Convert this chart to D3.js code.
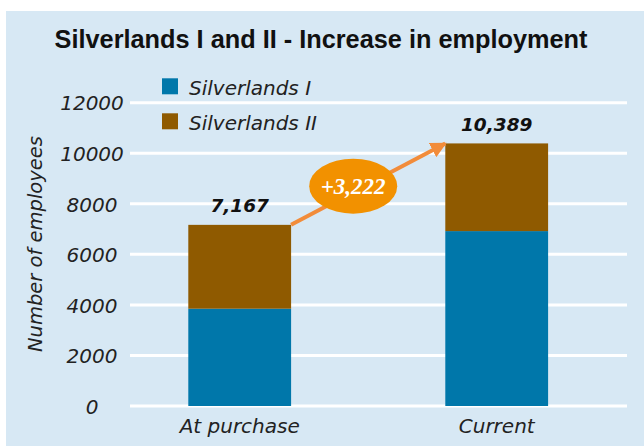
<!DOCTYPE html>
<html><head><meta charset="utf-8">
<script src="https://cdn.jsdelivr.net/npm/d3@7"></script>
<style>html,body{margin:0;padding:0;background:#fff;}svg{display:block;}</style>
</head><body>
<svg id="c" width="644" height="446"></svg>
<script>
const categories = ["At purchase", "Current"];
const seriesNames = ["Silverlands I", "Silverlands II"];
const silverlandsI = [3850, 6920];
const silverlandsII = [3317, 3469];
const totalLabels = ["7,167", "10,389"];
const increaseLabel = "+3,222";
const yTicks = [0, 2000, 4000, 6000, 8000, 10000, 12000];
const colors = ["#0077aa", "#8f5a00"];

const FONT = "DejaVu Sans, Verdana, sans-serif";
const svg = d3.select("#c");
svg.append("rect").attr("x", 6).attr("y", 11).attr("width", 638).attr("height", 435).attr("fill", "#d7e8f4");

svg.append("text").attr("x", 321).attr("y", 48).attr("text-anchor", "middle")
  .attr("font-family", "Liberation Sans Narrow, Arial Narrow, sans-serif").attr("font-weight", "bold")
  .attr("font-size", 25.3).attr("fill", "#111").text("Silverlands I and II - Increase in employment");

const y = d3.scaleLinear().domain([0, 12000]).range([406, 102.7]);
const x = d3.scaleBand().domain(categories).range([111.2, 625.2]).paddingInner(0.6).paddingOuter(0.3);

// tick labels (centered) and gridlines
const yAxis = d3.axisLeft(y).tickValues(yTicks).tickFormat(d3.format("d")).tickSize(0).tickPadding(0);
const ga = svg.append("g").attr("transform", "translate(92,0)").call(yAxis);
ga.select(".domain").remove();
ga.selectAll("text").attr("text-anchor", "middle").attr("font-family", FONT).attr("font-style", "italic")
  .attr("font-size", 20).attr("fill", "#222").attr("dy", "0.36em");
svg.append("g").selectAll("line").data(yTicks).join("line")
  .attr("x1", 130).attr("x2", 627).attr("y1", d => y(d)).attr("y2", d => y(d))
  .attr("stroke", "#fff").attr("stroke-width", 3);

// stacked bars
const rows = categories.map((c, i) => ({cat: c, "Silverlands I": silverlandsI[i], "Silverlands II": silverlandsII[i]}));
const stack = d3.stack().keys(seriesNames)(rows);
svg.append("g").selectAll("g").data(stack).join("g").attr("fill", (d, i) => colors[i])
  .selectAll("rect").data(d => d).join("rect")
  .attr("x", d => x(d.data.cat)).attr("width", x.bandwidth())
  .attr("y", d => y(d[1])).attr("height", d => y(d[0]) - y(d[1]));

// totals
const totals = categories.map((c, i) => silverlandsI[i] + silverlandsII[i]);
svg.append("g").selectAll("text").data(categories).join("text")
  .attr("x", d => x(d) + x.bandwidth() / 2).attr("y", (d, i) => y(totals[i]) - 12.5)
  .attr("text-anchor", "middle").attr("font-family", FONT)
  .attr("font-weight", "bold").attr("font-style", "italic").attr("font-size", 18.5).attr("fill", "#111")
  .text((d, i) => totalLabels[i]);

// x labels
svg.append("g").selectAll("text").data(categories).join("text")
  .attr("x", d => x(d) + x.bandwidth() / 2).attr("y", 433).attr("text-anchor", "middle")
  .attr("font-family", FONT).attr("font-style", "italic").attr("font-size", 20).attr("fill", "#222")
  .text(d => d);

// y title
svg.append("text").attr("transform", "translate(42,244) rotate(-90)").attr("text-anchor", "middle")
  .attr("font-family", FONT).attr("font-style", "italic").attr("font-size", 19.5).attr("fill", "#222")
  .text("Number of employees");

// legend
const lg = svg.append("g").selectAll("g").data(seriesNames).join("g")
  .attr("transform", (d, i) => `translate(162,${78.3 + i * 35})`);
lg.append("rect").attr("width", 16).attr("height", 16).attr("fill", (d, i) => colors[i]);
lg.append("text").attr("x", 27).attr("y", 16.7).attr("font-family", FONT)
  .attr("font-style", "italic").attr("font-size", 20).attr("fill", "#222").text(d => d);

// arrow
const defs = svg.append("defs");
defs.append("marker").attr("id", "ah").attr("viewBox", "0 0 10 10").attr("refX", 9).attr("refY", 5)
  .attr("markerWidth", 4).attr("markerHeight", 4).attr("orient", "auto")
  .append("path").attr("d", "M0,0 L10,5 L0,10 z").attr("fill", "#f28c3a");
const x0 = x(categories[0]) + x.bandwidth(), y0 = y(totals[0]);
const x1 = x(categories[1]), y1 = y(totals[1]);
svg.append("line").attr("x1", x0).attr("y1", y0).attr("x2", x1).attr("y2", y1)
  .attr("stroke", "#f28c3a").attr("stroke-width", 4).attr("marker-end", "url(#ah)");
const mx = (x0 + x1) / 2 - 15, my = (y0 + y1) / 2 + 2;
svg.append("ellipse").attr("cx", mx).attr("cy", my).attr("rx", 44).attr("ry", 27.5).attr("fill", "#f29100");
svg.append("text").attr("x", mx).attr("y", my + 8).attr("text-anchor", "middle")
  .attr("font-family", "Liberation Serif, serif").attr("font-weight", "bold").attr("font-style", "italic")
  .attr("font-size", 23).attr("fill", "#fff").text(increaseLabel);
</script>
</body></html>
